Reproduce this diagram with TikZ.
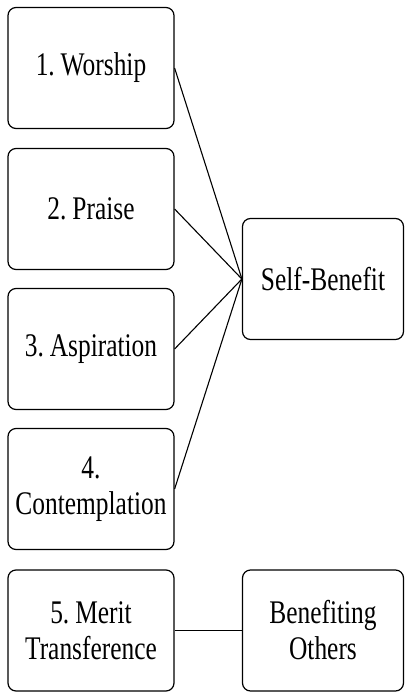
\documentclass[tikz,border=0pt]{standalone}
\usepackage{fontspec}
\setmainfont[FakeStretch=0.77,WordSpace=0.6]{Liberation Serif}
\begin{document}
\begin{tikzpicture}[x=1pt,y=-1pt,
  card/.style={draw=black, line width=1.2pt, rounded corners=8pt, fill=white,
    minimum width=166pt, minimum height=121pt, align=center, inner sep=0pt,
    font=\fontsize{33}{36}\selectfont},
  cardR/.style={card, minimum width=161pt},
  link/.style={draw=black, line width=1.1pt}]
\useasboundingbox (0,0) rectangle (405,694);
% left column: the five practices
\node[card] (w) at (91,68) {1. Worship};
\node[card] (p) at (91,209) {2. Praise};
\node[card] (a) at (91,349) {3. Aspiration};
\node[card] (c) at (91,489) {4.\\Contemplation};
\node[card] (m) at (91,630.5) {5. Merit\\Transference};
% right column: the two outcomes
\node[cardR] (s) at (323,279) {Self-Benefit};
\node[cardR] (o) at (323,630.5) {Benefiting\\Others};
% connectors
\draw[link] (w.east) -- (s.west);
\draw[link] (p.east) -- (s.west);
\draw[link] (a.east) -- (s.west);
\draw[link] (c.east) -- (s.west);
\draw[link] (m.east) -- (o.west);
\end{tikzpicture}
\end{document}
